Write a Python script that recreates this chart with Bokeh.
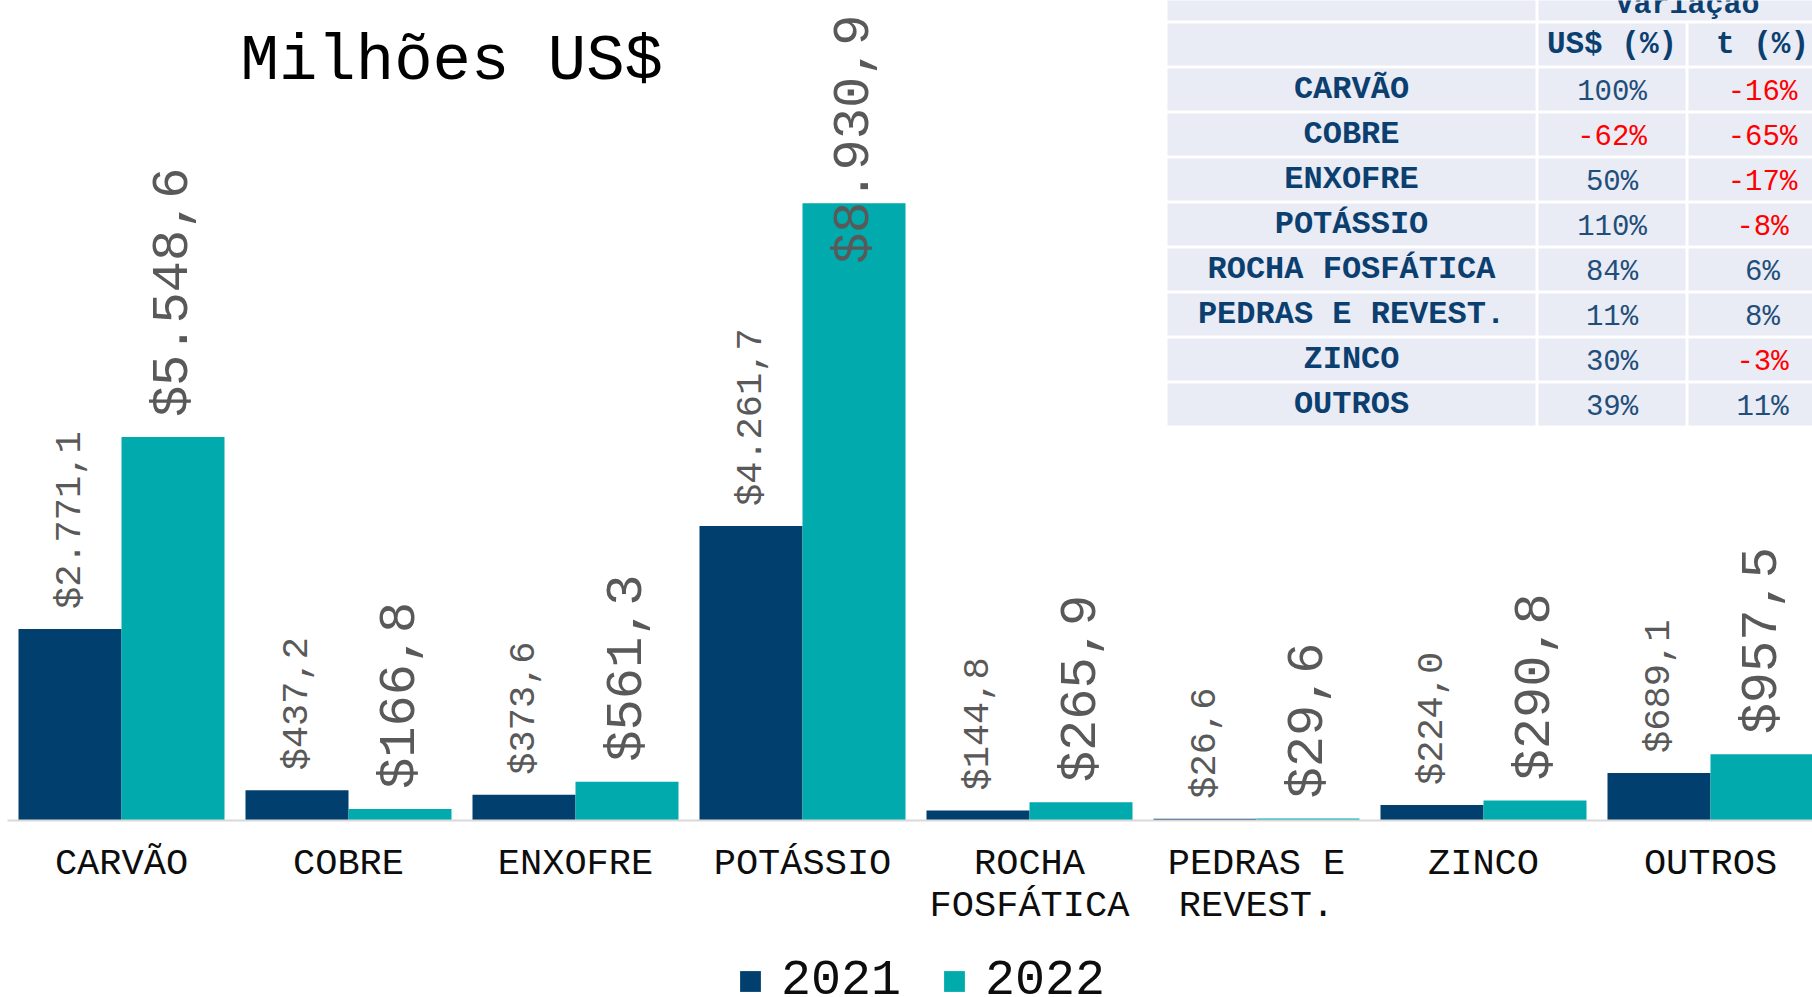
import math
from bokeh.plotting import figure
from bokeh.models import ColumnDataSource, Range1d, FixedTicker, Legend, LegendItem
from bokeh.core.properties import value
from bokeh.embed import file_html
from bokeh.resources import INLINE

# ---------------- data ----------------
categories = ["CARVÃO", "COBRE", "ENXOFRE", "POTÁSSIO", "ROCHA FOSFÁTICA",
              "PEDRAS E REVEST.", "ZINCO", "OUTROS"]
tick_labels = ["CARVÃO", "COBRE", "ENXOFRE", "POTÁSSIO", "ROCHA\nFOSFÁTICA",
               "PEDRAS E\nREVEST.", "ZINCO", "OUTROS"]
years = ["2021", "2022"]
v2021 = [2771.1, 437.2, 373.6, 4261.7, 144.8, 26.6, 224.0, 689.1]
v2022 = [5548.6, 166.8, 561.3, 8930.9, 265.9, 29.6, 290.8, 957.5]

table_title = "Variação"
table_headers = ["US$ (%)", "t (%)"]
table_rows = ["CARVÃO", "COBRE", "ENXOFRE", "POTÁSSIO", "ROCHA FOSFÁTICA",
              "PEDRAS E REVEST.", "ZINCO", "OUTROS"]
var_usd = [100, -62, 50, 110, 84, 11, 30, 39]
var_t = [-16, -65, -17, -8, 6, 8, -3, 11]

title_text = "Milhões US$"

# ---------------- layout constants ----------------
FONT = "Liberation Mono"
C2021 = "#003f6e"
C2022 = "#00aaad"
W, H = 1812, 997
BASE_PX = 820        # baseline (y = 0) in canvas pixels
CAT_PX = 227.0       # width of one category in pixels
X_OFF = 7.5          # left edge of first category in pixels
K = 0.0691           # px per million US$
BAR_W = 103.0 / CAT_PX


def dx(px):
    return -0.5 + (px - X_OFF) / CAT_PX


def dy(py):
    return (BASE_PX - py) / K


def fmt_br(v):
    s = f"{v:,.1f}"
    s = s.replace(",", "X").replace(".", ",").replace("X", ".")
    return "$" + s


p = figure(width=W, height=H,
           x_range=Range1d(dx(0), dx(W)), y_range=Range1d(dy(H), dy(0)),
           output_backend="svg", toolbar_location=None, y_axis_location=None,
           min_border_left=0, min_border_right=0, min_border_top=0,
           min_border_bottom=0, outline_line_color=None,
           background_fill_color="white", border_fill_color="white")
p.xgrid.visible = False
p.ygrid.visible = False

idx = list(range(len(categories)))
x21 = [i - BAR_W / 2 for i in idx]
x22 = [i + BAR_W / 2 for i in idx]

src = ColumnDataSource(dict(x21=x21, x22=x22, v21=v2021, v22=v2022))
r1 = p.vbar(x="x21", top="v21", width=BAR_W, source=src, fill_color=C2021, line_color=None)
r2 = p.vbar(x="x22", top="v22", width=BAR_W, source=src, fill_color=C2022, line_color=None)

# data labels
gap_px = 20
lab21_y = [v + gap_px / K for v in v2021]
lab22_y = []
big = 52
for v, t in zip(v2022, [fmt_br(v) for v in v2022]):
    top_px = BASE_PX - v * K
    L = len(t) * 0.6 * big
    start_px = top_px - gap_px
    if start_px - L < 14:
        start_px = 14 + L
    lab22_y.append(dy(start_px))

p.text(x=x21, y=lab21_y, text=[fmt_br(v) for v in v2021], angle=math.pi / 2,
       text_align="left", text_baseline="middle", text_font=value(FONT),
       text_font_size="37px", text_color="#595959")
p.text(x=x22, y=lab22_y, text=[fmt_br(v) for v in v2022], angle=math.pi / 2,
       text_align="left", text_baseline="middle", text_font=value(FONT),
       text_font_size="52px", text_color="#595959")

# title
p.text(x=[dx(240)], y=[dy(61)], text=[title_text], text_align="left",
       text_baseline="middle", text_font=value(FONT), text_font_size="64px",
       text_color="black")

# ---------------- table ----------------
CELL = "#e9ebf5"
colL = [(1167, 1535), (1538, 1685), (1688, 1836)]
row_h = 42
row_pitch = 45
first_row_top = 68
ql, qr, qt, qb = [], [], [], []
for (a, b) in [colL[0], (colL[1][0], colL[2][1])]:
    ql.append(dx(a)); qr.append(dx(b)); qt.append(dy(-10)); qb.append(dy(20))
for (a, b) in colL:
    ql.append(dx(a)); qr.append(dx(b)); qt.append(dy(23)); qb.append(dy(65))
for r in range(len(table_rows)):
    top = first_row_top + r * row_pitch
    for (a, b) in colL:
        ql.append(dx(a)); qr.append(dx(b)); qt.append(dy(top)); qb.append(dy(top + row_h))
p.quad(left=ql, right=qr, top=qt, bottom=qb, fill_color=CELL, line_color=None)

NAVY = "#0b3f6f"
BLUE = "#1f4e79"
RED = "#ff0000"
c1 = (colL[0][0] + colL[0][1]) / 2
c2 = (colL[1][0] + colL[1][1]) / 2
c3 = (colL[2][0] + colL[2][1]) / 2
cm = (colL[1][0] + colL[2][1]) / 2

p.text(x=[dx(cm)], y=[dy(4)], text=[table_title], text_align="center",
       text_baseline="middle", text_font=value(FONT), text_font_size="30px",
       text_font_style="bold", text_color=NAVY)
p.text(x=[dx(c2), dx(c3)], y=[dy(44), dy(44)], text=table_headers,
       text_align="center", text_baseline="middle", text_font=value(FONT),
       text_font_size="31px", text_font_style="bold", text_color=NAVY)

row_cy = [first_row_top + r * row_pitch + row_h / 2 for r in range(len(table_rows))]
p.text(x=[dx(c1)] * len(table_rows), y=[dy(c) for c in row_cy], text=table_rows,
       text_align="center", text_baseline="middle", text_font=value(FONT),
       text_font_size="32px", text_font_style="bold", text_color=NAVY)

vx, vy, vt, vc = [], [], [], []
for r in range(len(table_rows)):
    for cx, val in [(c2, var_usd[r]), (c3, var_t[r])]:
        vx.append(dx(cx)); vy.append(dy(row_cy[r] + 3)); vt.append(f"{val}%")
        vc.append(RED if val < 0 else BLUE)
p.text(x=vx, y=vy, text=vt, text_color=vc, text_align="center",
       text_baseline="middle", text_font=value(FONT), text_font_size="29px")

# ---------------- axis (drawn at y = 0) ----------------
ax = p.xaxis[0]
ax.fixed_location = 0
ax.bounds = (dx(7), dx(W))
ax.ticker = FixedTicker(ticks=idx)
ax.major_label_overrides = {i: lab for i, lab in zip(idx, tick_labels)}
ax.major_tick_line_color = None
ax.major_tick_out = 0
ax.minor_tick_line_color = None
ax.axis_line_color = "#d9d9d9"
ax.axis_line_width = 2
ax.major_label_text_font = FONT
ax.major_label_text_font_size = "37px"
ax.major_label_text_color = "#0d0d0d"
ax.major_label_text_line_height = 1.0
ax.major_label_standoff = 22

# ---------------- legend ----------------
legend = Legend(items=[LegendItem(label=years[0], renderers=[r1]),
                       LegendItem(label=years[1], renderers=[r2])],
                location=(737, -12), orientation="horizontal",
                label_text_font=FONT, label_text_font_size="50px",
                label_text_color="#0d0d0d",
                glyph_width=26, glyph_height=26, label_standoff=18, spacing=40,
                padding=0, margin=0, border_line_color=None,
                background_fill_alpha=0)
p.add_layout(legend)

open("out.html", "w").write(file_html(p, INLINE))
